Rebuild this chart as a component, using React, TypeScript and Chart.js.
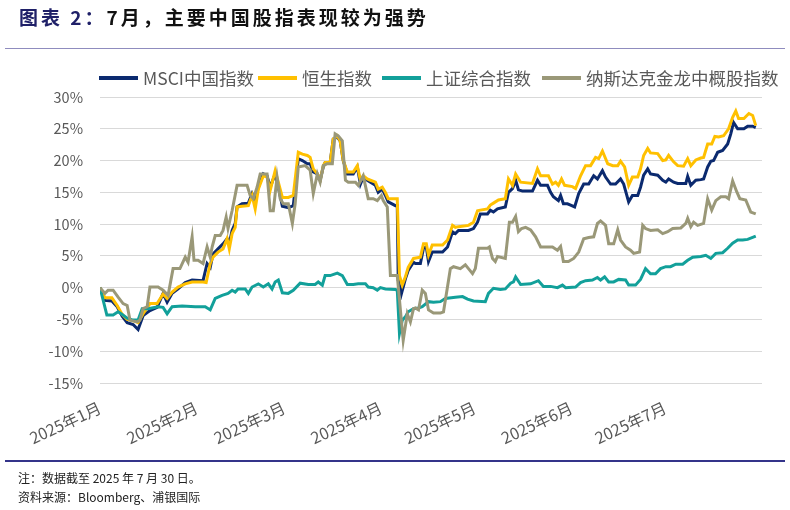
import React, { useEffect, useRef } from "react";
import { Chart, registerables } from "chart.js";

Chart.register(...registerables);

// ---- axis data ----
const monthTickDays = [0, 31, 59, 90, 120, 151, 181];
const monthLabels = ["2025年1月", "2025年2月", "2025年3月", "2025年4月", "2025年5月", "2025年6月", "2025年7月"];
const yMin = -15;
const yMax = 30;
const yStep = 5;

// ---- series (x = days since 2025-01-01, y = cumulative return %) ----
const msciDays = [0, 1.6, 3.8, 5.5, 7.1, 8.7, 10.6, 12.2, 13.8, 16.0, 18.3, 20.2, 21.5, 23.1, 25.0, 27.3, 29.5, 33.0, 34.3, 35.3, 36.2, 37.8, 39.4, 40.7, 41.4, 42.3, 43.3, 43.9, 45.5, 47.5, 48.7, 49.7, 50.7, 52.3, 53.5, 54.5, 56.1, 57.1, 58.4, 60.3, 61.9, 63.5, 64.8, 66.4, 67.3, 68.3, 69.6, 70.5, 71.5, 72.1, 73.7, 74.7, 76.0, 76.9, 77.9, 79.2, 81.1, 82.4, 83.4, 84.3, 85.6, 86.6, 88.2, 89.1, 90.4, 91.4, 92.3, 94.6, 95.2, 95.5, 96.5, 97.8, 98.7, 100.4, 101.0, 102.6, 103.6, 104.5, 105.2, 106.4, 109.7, 111.3, 112.9, 113.8, 114.8, 118.0, 119.6, 120.9, 121.8, 124.1, 125.0, 126.0, 127.3, 129.8, 130.8, 132.1, 133.1, 134.0, 135.3, 138.5, 140.1, 141.1, 143.3, 144.3, 145.2, 146.8, 147.5, 148.4, 149.7, 150.7, 152.0, 153.3, 154.9, 156.5, 158.1, 159.3, 160.9, 161.9, 163.5, 165.1, 166.7, 167.7, 169.3, 170.5, 172.2, 173.1, 174.1, 175.4, 176.3, 178.6, 180.2, 181.2, 182.1, 183.7, 185.0, 187.6, 188.2, 189.2, 190.8, 192.4, 193.3, 194.6, 195.6, 196.5, 197.8, 199.4, 201.0, 202.0, 202.9, 204.2, 206.2, 207.4, 209.0, 210];
const msciValues = [0, -2.0, -2.1, -3.0, -4.5, -5.5, -5.8, -6.6, -4.4, -3.6, -3.1, -0.9, -2.3, -0.9, -0.2, 0.8, 1.2, 1.1, 3.8, 3.2, 5.3, 6.1, 6.9, 7.7, 6.9, 9.0, 10.1, 12.7, 13.2, 13.3, 14.8, 13.7, 15.8, 17.9, 17.6, 15.8, 17.9, 15.8, 12.8, 12.6, 12.9, 20.3, 20.0, 19.5, 19.5, 18.2, 17.9, 16.9, 19.0, 19.7, 19.7, 23.4, 23.7, 23.1, 20.0, 17.9, 17.9, 19.0, 16.3, 17.4, 16.9, 16.6, 16.1, 15.0, 15.5, 14.5, 13.5, 12.9, 12.9, 1.2, -1.0, 1.4, 2.7, 4.0, 3.8, 3.8, 6.2, 6.4, 4.1, 5.6, 5.6, 6.4, 8.8, 8.5, 9.0, 9.0, 9.3, 10.3, 11.6, 11.6, 12.2, 11.9, 12.4, 12.7, 15.0, 15.6, 16.9, 15.4, 15.2, 15.2, 16.9, 16.1, 16.1, 15.0, 14.3, 13.7, 14.5, 13.2, 13.2, 13.0, 12.7, 14.8, 16.3, 16.3, 17.6, 17.1, 18.4, 17.4, 16.3, 16.3, 17.1, 16.3, 13.5, 14.5, 14.5, 15.8, 17.7, 18.7, 17.9, 17.7, 16.9, 16.6, 17.1, 16.6, 16.4, 16.4, 17.5, 16.1, 16.9, 17.0, 17.1, 19.0, 19.9, 20.0, 21.3, 21.6, 22.6, 24.2, 26.0, 25.0, 25.0, 25.4, 25.4, 25.2];

const hsiDays = [0, 1.6, 3.8, 5.5, 7.1, 8.7, 10.6, 12.2, 13.8, 16.0, 18.3, 20.2, 21.5, 23.1, 25.0, 27.3, 29.5, 33.0, 34.0, 35.3, 36.2, 37.8, 39.4, 40.7, 41.4, 42.3, 43.3, 43.9, 45.5, 47.5, 48.7, 49.7, 50.7, 52.3, 53.5, 54.5, 56.1, 57.1, 58.4, 60.3, 61.9, 63.5, 64.8, 66.4, 67.3, 68.3, 69.6, 70.5, 71.5, 72.1, 73.7, 74.7, 76.0, 76.9, 77.9, 79.2, 81.1, 82.4, 83.4, 84.3, 85.6, 86.6, 88.2, 89.1, 90.4, 91.4, 92.3, 95.2, 95.9, 96.8, 97.8, 98.7, 100.4, 102.6, 103.6, 104.5, 105.2, 106.4, 109.7, 111.3, 112.9, 113.8, 114.8, 118.0, 119.6, 120.9, 121.8, 124.1, 125.0, 126.0, 127.6, 129.8, 130.8, 132.1, 133.1, 134.7, 138.5, 140.1, 141.1, 143.6, 144.9, 145.9, 146.8, 147.8, 148.8, 151.3, 152.3, 153.9, 155.5, 157.1, 158.7, 159.7, 160.9, 162.6, 164.2, 165.8, 166.7, 168.0, 169.3, 170.5, 172.2, 173.1, 174.1, 175.4, 176.3, 178.6, 180.2, 181.2, 182.1, 183.7, 185.0, 186.9, 188.2, 189.2, 190.8, 192.4, 193.3, 194.6, 195.9, 196.9, 198.1, 199.7, 201.3, 202.6, 203.6, 204.5, 206.2, 207.8, 209.0, 210];
const hsiValues = [0, -1.6, -1.6, -2.8, -4.2, -5.0, -5.2, -5.5, -4.1, -2.5, -2.5, -1.0, -1.7, -0.7, 0.1, 0.6, 0.9, 0.9, 0.8, 3.8, 4.8, 5.6, 6.1, 7.7, 6.1, 8.5, 9.5, 12.7, 12.8, 12.9, 14.5, 12.4, 15.5, 17.6, 17.4, 15.3, 18.4, 16.6, 14.2, 14.2, 14.5, 21.3, 21.0, 20.8, 20.5, 18.7, 17.9, 16.9, 19.2, 19.7, 19.7, 23.4, 23.9, 23.1, 20.0, 18.2, 18.2, 19.2, 16.9, 17.6, 17.1, 16.9, 16.6, 15.5, 15.8, 15.0, 14.0, 14.0, 1.9, 0.4, 1.7, 3.2, 4.6, 4.8, 6.9, 6.9, 5.1, 6.7, 6.7, 7.5, 9.8, 9.5, 9.6, 9.8, 10.3, 12.1, 12.2, 12.4, 13.0, 13.3, 13.8, 14.0, 17.1, 16.1, 17.9, 16.6, 16.4, 18.7, 17.6, 17.6, 16.3, 16.6, 16.1, 17.1, 16.1, 15.9, 15.6, 17.6, 19.2, 19.2, 20.5, 20.3, 21.5, 19.5, 19.2, 19.2, 19.9, 19.0, 16.1, 17.4, 17.4, 18.7, 20.8, 21.9, 21.2, 21.1, 20.0, 20.1, 20.8, 19.8, 19.2, 19.1, 20.3, 19.2, 20.1, 20.4, 20.5, 22.6, 22.6, 23.8, 23.7, 23.9, 25.0, 26.8, 27.8, 26.6, 26.6, 27.4, 27.1, 25.5];

const sseDays = [0, 2.2, 4.2, 5.8, 7.1, 8.7, 10.6, 12.2, 13.5, 15.4, 18.6, 20.2, 21.5, 23.1, 26.3, 30.5, 33.7, 35.3, 36.9, 39.1, 41.0, 42.3, 43.3, 44.2, 46.5, 47.5, 48.7, 50.7, 52.3, 53.9, 55.1, 56.1, 57.1, 58.4, 60.3, 61.9, 64.1, 66.7, 68.9, 69.9, 71.2, 72.1, 73.7, 76.0, 77.6, 79.2, 81.1, 82.7, 85.0, 85.9, 87.5, 88.8, 89.8, 91.4, 94.6, 95.2, 95.9, 96.8, 97.8, 98.7, 100.4, 102.0, 103.2, 105.2, 106.8, 109.0, 110.6, 113.8, 116.1, 117.7, 119.6, 123.4, 124.4, 126.0, 128.2, 129.8, 131.5, 132.4, 133.1, 134.7, 137.9, 140.4, 142.0, 144.3, 146.5, 148.1, 149.1, 152.3, 153.9, 155.5, 157.7, 159.3, 160.3, 161.6, 162.9, 164.5, 166.1, 168.3, 169.3, 171.5, 173.1, 174.7, 176.3, 177.9, 179.5, 181.2, 182.7, 184.4, 186.6, 188.2, 189.8, 192.4, 194.0, 195.6, 197.2, 199.4, 201.0, 202.6, 204.2, 205.8, 207.4, 209.0, 210];
const sseValues = [0, -4.3, -4.3, -3.8, -4.2, -4.8, -5.1, -5.1, -3.3, -3.3, -3.0, -3.1, -4.1, -3.0, -2.9, -3.0, -3.0, -3.5, -1.7, -1.2, -0.9, -0.4, -0.7, -0.2, -0.2, -0.9, 0.1, 0.6, 0.1, 0.6, -0.2, 0.9, 1.2, -0.8, -0.9, -0.4, 0.7, 0.5, 0.5, 0.9, 0.4, 1.9, 1.9, 2.3, 1.9, 0.5, 0.5, 0.6, 0.6, 0.1, 0.0, -0.4, 0.0, -0.2, -0.3, -0.4, -7.2, -5.1, -4.6, -3.8, -3.3, -3.2, -3.0, -2.2, -2.3, -2.2, -1.7, -1.5, -1.4, -1.8, -2.1, -2.2, -0.9, -0.1, -0.3, -0.2, 0.7, 0.9, 1.7, 0.5, 0.6, 1.1, 0.2, 0.2, 0.0, 0.4, 0.0, 0.1, 0.8, 1.1, 1.2, 1.6, 1.2, 1.7, 0.9, 0.9, 1.3, 1.2, 0.4, 0.4, 1.3, 3.0, 2.2, 2.2, 3.0, 3.3, 3.3, 3.7, 3.7, 4.3, 4.8, 4.9, 5.1, 4.6, 5.4, 5.5, 6.2, 7.0, 7.5, 7.5, 7.6, 7.9, 8.1];

const dragonDays = [0, 1.6, 2.6, 4.2, 5.8, 7.4, 8.7, 9.6, 11.9, 12.8, 13.8, 15.1, 16.0, 18.6, 20.2, 21.8, 23.4, 25.6, 27.3, 28.2, 29.5, 30.1, 31.4, 33.0, 34.3, 35.3, 35.9, 36.9, 38.5, 39.4, 40.4, 41.0, 42.3, 43.9, 47.1, 48.1, 49.1, 50.3, 51.3, 53.5, 54.5, 55.5, 56.7, 57.7, 58.7, 60.3, 61.6, 62.5, 63.5, 65.7, 67.3, 68.3, 69.6, 70.5, 71.5, 72.8, 74.4, 75.3, 76.3, 77.6, 78.6, 79.5, 81.8, 82.7, 84.3, 85.9, 87.5, 88.8, 90.1, 90.7, 92.0, 93.0, 95.2, 96.5, 97.1, 98.4, 99.4, 100.4, 101.0, 102.0, 103.2, 104.2, 105.2, 106.8, 109.0, 110.0, 111.3, 112.2, 113.2, 115.4, 117.0, 118.0, 119.3, 120.2, 121.2, 124.1, 124.7, 125.7, 126.6, 127.3, 129.8, 131.1, 132.1, 133.1, 134.0, 135.0, 136.3, 137.9, 139.5, 141.1, 142.7, 144.9, 146.5, 147.5, 148.4, 150.0, 151.7, 153.3, 154.9, 156.5, 158.1, 159.3, 160.3, 161.9, 162.9, 164.5, 165.8, 166.7, 168.3, 169.9, 170.9, 172.8, 173.8, 174.7, 176.3, 178.6, 180.2, 181.8, 183.4, 186.0, 187.6, 188.2, 189.2, 190.1, 191.4, 193.3, 194.6, 195.9, 197.2, 198.8, 200.4, 201.3, 202.6, 203.9, 204.9, 206.8, 208.4, 210];
const dragonValues = [0, -0.9, -0.4, -0.4, -1.5, -2.5, -2.8, -5.1, -5.4, -5.1, -3.3, -3.0, 0.1, 0.1, -0.4, -1.2, 3.0, 3.0, 4.8, 4.0, 8.0, 4.3, 4.3, 3.8, 6.4, 4.8, 6.4, 8.2, 8.2, 9.0, 11.1, 9.3, 12.1, 16.1, 16.1, 14.5, 14.0, 15.8, 17.9, 17.9, 12.1, 12.1, 17.4, 14.0, 13.2, 13.2, 10.1, 13.2, 19.0, 19.2, 18.5, 14.8, 17.9, 16.6, 19.2, 19.5, 19.5, 24.2, 23.9, 23.1, 16.9, 16.6, 16.6, 16.1, 17.6, 14.0, 14.0, 13.7, 14.5, 13.7, 12.7, 1.9, 1.9, -5.1, -8.3, -4.1, -5.4, -3.3, -3.2, -3.5, -0.4, -0.9, -3.5, -4.0, -4.0, -3.8, 0.2, 3.0, 3.3, 3.0, 3.6, 3.0, 2.2, 3.0, 6.2, 6.2, 6.4, 4.6, 4.1, 4.9, 4.6, 10.3, 10.3, 11.2, 8.8, 9.3, 9.5, 9.1, 8.0, 6.4, 6.4, 6.4, 5.9, 6.5, 4.1, 4.1, 4.6, 5.6, 7.7, 7.9, 8.0, 10.1, 10.5, 9.8, 6.9, 6.9, 9.1, 7.5, 6.4, 5.9, 5.4, 5.6, 9.8, 9.3, 9.0, 9.1, 8.5, 8.8, 9.3, 9.4, 10.1, 10.9, 9.6, 10.3, 9.8, 10.1, 14.0, 12.2, 13.7, 14.3, 14.3, 14.0, 16.8, 15.1, 14.0, 13.8, 11.9, 11.6];

const seriesNames = ["MSCI中国指数", "恒生指数", "上证综合指数", "纳斯达克金龙中概股指数"];
const seriesColors = ["#0B2A6F", "#FFC000", "#12A09A", "#9A9878"];

const FONT = '"Noto Sans CJK SC", "Liberation Sans", sans-serif';

function pairs(xs: number[], ys: number[]) {
  const n = Math.min(xs.length, ys.length);
  const out: { x: number; y: number }[] = [];
  for (let i = 0; i < n; i++) out.push({ x: xs[i], y: ys[i] });
  return out;
}

export default function App() {
  const canvasRef = useRef<HTMLCanvasElement | null>(null);

  useEffect(() => {
    const canvas = canvasRef.current;
    if (!canvas) return;
    const dataSets = [
      pairs(msciDays, msciValues),
      pairs(hsiDays, hsiValues),
      pairs(sseDays, sseValues),
      pairs(dragonDays, dragonValues),
    ];
    const chart = new Chart(canvas, {
      type: "line",
      data: {
        datasets: dataSets.map((d, i) => ({
          label: seriesNames[i],
          data: d,
          borderColor: seriesColors[i],
          backgroundColor: seriesColors[i],
          borderWidth: 3,
          pointRadius: 0,
          tension: 0,
          fill: false,
          order: 4 - i,
        })),
      },
      options: {
        responsive: false,
        animation: false,
        devicePixelRatio: 1,
        layout: { padding: { left: 0, top: 97, right: 28, bottom: 0 } },
        plugins: { legend: { display: false }, tooltip: { enabled: false } },
        scales: {
          x: {
            type: "linear",
            min: 0,
            max: 212,
            grid: { display: false, drawTicks: false },
            border: { display: false },
            afterBuildTicks: (scale: any) => {
              scale.ticks = monthTickDays.map((v) => ({ value: v }));
            },
            afterFit: (scale: any) => {
              scale.height = 127;
            },
            ticks: {
              autoSkip: false,
              minRotation: 25,
              maxRotation: 25,
              padding: 15,
              color: "#595959",
              font: { family: FONT, size: 16 },
              callback: (_v: any, index: number) => monthLabels[index],
            },
          },
          y: {
            min: yMin,
            max: yMax,
            grid: { color: "#D9D9D9", lineWidth: 1, drawTicks: false },
            border: { display: false },
            afterFit: (scale: any) => {
              scale.width = 100;
            },
            ticks: {
              stepSize: yStep,
              padding: 17,
              color: "#595959",
              font: { family: FONT, size: 14.5 },
              callback: (v: any) => `${v}%`,
            },
          },
        },
      },
    } as any);
    return () => chart.destroy();
  }, []);

  const legendLeft = [99, 258, 382, 542];

  return (
    <div
      style={{
        position: "absolute",
        left: 0,
        top: 0,
        width: 790,
        height: 510,
        background: "#ffffff",
        overflow: "hidden",
        fontFamily: FONT,
      }}
    >
      <canvas
        ref={canvasRef}
        width={790}
        height={510}
        style={{ position: "absolute", left: 0, top: 0, width: 790, height: 510 }}
      />
      <div
        style={{
          position: "absolute",
          left: 19,
          top: 3,
          fontSize: 19,
          fontWeight: 700,
          letterSpacing: 3,
          whiteSpace: "nowrap",
          lineHeight: "28px",
        }}
      >
        <span style={{ color: "#1F2068" }}>图表 2：</span>
        <span style={{ color: "#111111" }}>7月，主要中国股指表现较为强势</span>
      </div>
      <div style={{ position: "absolute", left: 5, top: 48, width: 780, height: 0, borderTop: "1.5px solid #8F8CBE" }} />
      {seriesNames.map((name, i) => (
        <div
          key={name}
          style={{
            position: "absolute",
            left: legendLeft[i],
            top: 66,
            height: 24,
            display: "flex",
            alignItems: "center",
            whiteSpace: "nowrap",
          }}
        >
          <span style={{ display: "inline-block", width: 39, height: 4, background: seriesColors[i], marginRight: 5 }} />
          <span style={{ fontSize: 17.5, color: "#595959", lineHeight: "24px" }}>{name}</span>
        </div>
      ))}
      <div style={{ position: "absolute", left: 5, top: 460, width: 780, height: 0, borderTop: "2px solid #34348A" }} />
      <div style={{ position: "absolute", left: 18, top: 469, fontSize: 12, color: "#222", whiteSpace: "nowrap", lineHeight: "18px" }}>
        注：数据截至 2025 年 7 月 30 日。
      </div>
      <div style={{ position: "absolute", left: 18, top: 488, fontSize: 12, color: "#222", whiteSpace: "nowrap", lineHeight: "18px" }}>
        资料来源：Bloomberg、浦银国际
      </div>
    </div>
  );
}
